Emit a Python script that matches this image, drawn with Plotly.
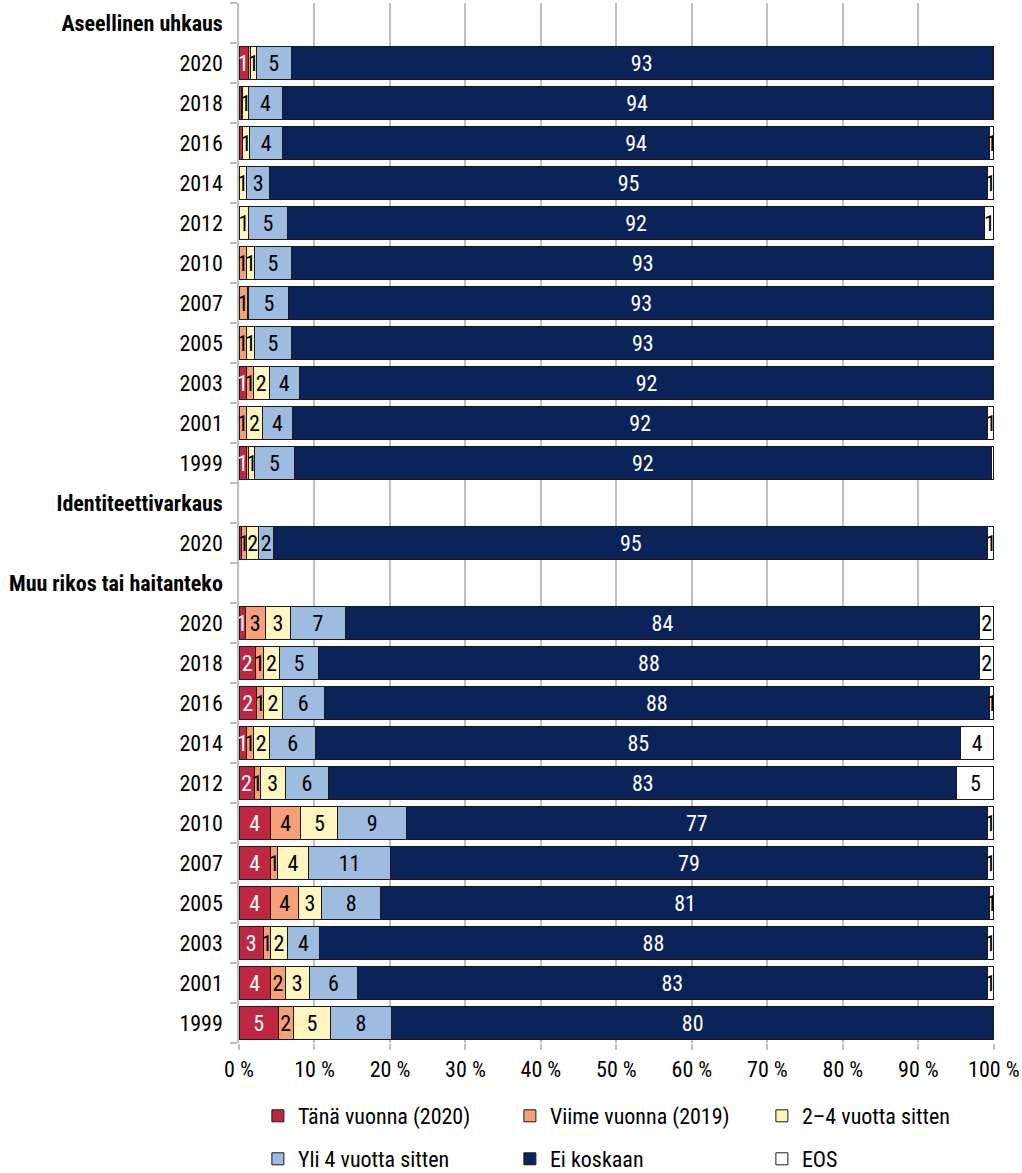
import plotly.graph_objects as go

# ---- data ----
row_keys = (["H_A"] + [f"A{y}" for y in [2020, 2018, 2016, 2014, 2012, 2010, 2007, 2005, 2003, 2001, 1999]]
            + ["H_I", "I2020", "H_M"]
            + [f"M{y}" for y in [2020, 2018, 2016, 2014, 2012, 2010, 2007, 2005, 2003, 2001, 1999]])
row_labels = (["<b>Aseellinen uhkaus</b>"] + ["2020", "2018", "2016", "2014", "2012", "2010", "2007", "2005", "2003", "2001", "1999"]
              + ["<b>Identiteettivarkaus</b>", "2020", "<b>Muu rikos tai haitanteko</b>"]
              + ["2020", "2018", "2016", "2014", "2012", "2010", "2007", "2005", "2003", "2001", "1999"])

data_rows = ([f"A{y}" for y in [2020, 2018, 2016, 2014, 2012, 2010, 2007, 2005, 2003, 2001, 1999]]
             + ["I2020"]
             + [f"M{y}" for y in [2020, 2018, 2016, 2014, 2012, 2010, 2007, 2005, 2003, 2001, 1999]])

series_names = ["Tänä vuonna (2020)", "Viime vuonna (2019)", "2–4 vuotta sitten",
                "Yli 4 vuotta sitten", "Ei koskaan", "EOS"]

tana = [1.2, 0.3, 0.4, 0.0, 0.0, 0.0, 0.0, 0.0, 1.0, 0.0, 1.0,
        0.3,
        0.8, 2.2, 2.3, 1.0, 2.0, 4.2, 4.2, 4.2, 3.2, 4.2, 5.2]
viime = [0.3, 0.2, 0.1, 0.0, 0.0, 1.0, 1.1, 1.0, 0.9, 1.0, 0.3,
         0.7,
         2.7, 1.0, 1.0, 0.9, 0.8, 4.0, 0.9, 3.7, 1.0, 1.9, 2.0]
kaksineljä = [0.8, 0.8, 0.9, 1.0, 1.3, 1.0, 0.2, 1.0, 2.1, 2.1, 0.8,
              1.6,
              3.3, 2.2, 2.4, 2.1, 3.3, 4.9, 4.1, 3.0, 2.2, 3.2, 4.9]
yli4 = [4.6, 4.4, 4.4, 3.1, 5.1, 5.0, 5.3, 5.0, 4.0, 4.0, 5.2,
        2.0,
        7.3, 5.1, 5.6, 6.2, 5.8, 9.1, 10.9, 7.9, 4.3, 6.4, 8.1]
ei_koskaan = [92.9, 94.1, 93.6, 95.0, 92.4, 93.0, 93.4, 93.0, 92.0, 92.1, 92.4,
              94.6,
              84.0, 87.6, 88.1, 85.4, 83.2, 76.9, 79.0, 80.6, 88.4, 83.4, 79.8]
eos = [0.2, 0.2, 0.6, 0.9, 1.2, 0.0, 0.0, 0.0, 0.0, 0.8, 0.3,
       0.8,
       1.9, 1.9, 0.6, 4.4, 4.9, 0.9, 0.9, 0.6, 0.9, 0.9, 0.0]

series_values = [tana, viime, kaksineljä, yli4, ei_koskaan, eos]
colors = ["#BE2641", "#F5A078", "#FFF5BE", "#9EBBE0", "#0B2358", "#FFFFFF"]
text_colors = ["white", "black", "black", "black", "white", "black"]

FONT = "Roboto Condensed, Roboto, Liberation Sans, sans-serif"
FS = 22

fig = go.Figure()
for i, (name, vals) in enumerate(zip(series_names, series_values)):
    labels = [f"{round(v):d}" if v >= 0.5 else "" for v in vals]
    fig.add_trace(go.Bar(
        name=name, y=data_rows, x=vals, orientation="h",
        marker=dict(color=colors[i], line=dict(color="#1a1a1a", width=1)),
        text=labels, textposition="inside", insidetextanchor="middle",
        textangle=0, textfont=dict(color=text_colors[i], size=FS, family=FONT),
        cliponaxis=False,
        legend="legend" if i < 3 else "legend2",
        hoverinfo="skip",
    ))

legend_common = dict(orientation="h", xref="paper", x=0.025, xanchor="left",
                     yref="container", yanchor="middle", entrywidth=207,
                     traceorder="normal", font=dict(size=FS, family=FONT),
                     itemclick=False, itemdoubleclick=False)

fig.update_layout(
    barmode="stack", bargap=0.18,
    width=1022, height=1173,
    margin=dict(l=239, r=28, t=3, b=130, autoexpand=False),
    plot_bgcolor="white", paper_bgcolor="white",
    font=dict(family=FONT, size=FS, color="black"),
    uniformtext=dict(minsize=FS, mode="show"),
    legend=dict(y=1 - 1116 / 1173, **legend_common),
    legend2=dict(y=1 - 1159 / 1173, **legend_common),
    showlegend=True,
)

fig.update_xaxes(range=[0, 100.02], tickvals=list(range(0, 101, 10)),
                 ticktext=[f"{v} %" for v in range(0, 101, 10)],
                 showgrid=True, gridcolor="#BFBFBF", gridwidth=1.5,
                 ticks="outside", ticklen=6, tickcolor="#BFBFBF", tickwidth=1.5,
                 showline=False, zeroline=False, ticklabelstandoff=1,
                 ticklabeloverflow="allow", automargin=False,
                 tickfont=dict(size=FS, family=FONT))
fig.update_yaxes(type="category", categoryorder="array", categoryarray=row_keys,
                 tickmode="array", tickvals=row_keys, ticktext=row_labels,
                 range=[len(row_keys) - 0.5, -0.5], tickson="boundaries",
                 ticks="outside", ticklen=7, tickcolor="#BFBFBF", tickwidth=1.5,
                 showline=True, linecolor="#BFBFBF", linewidth=1.5,
                 showgrid=False, zeroline=False, automargin=False,
                 ticklabelstandoff=10,
                 tickfont=dict(size=FS, family=FONT))

fig.write_html("out.html", config={"displayModeBar": False},
               post_script="document.body.style.margin='0';")
